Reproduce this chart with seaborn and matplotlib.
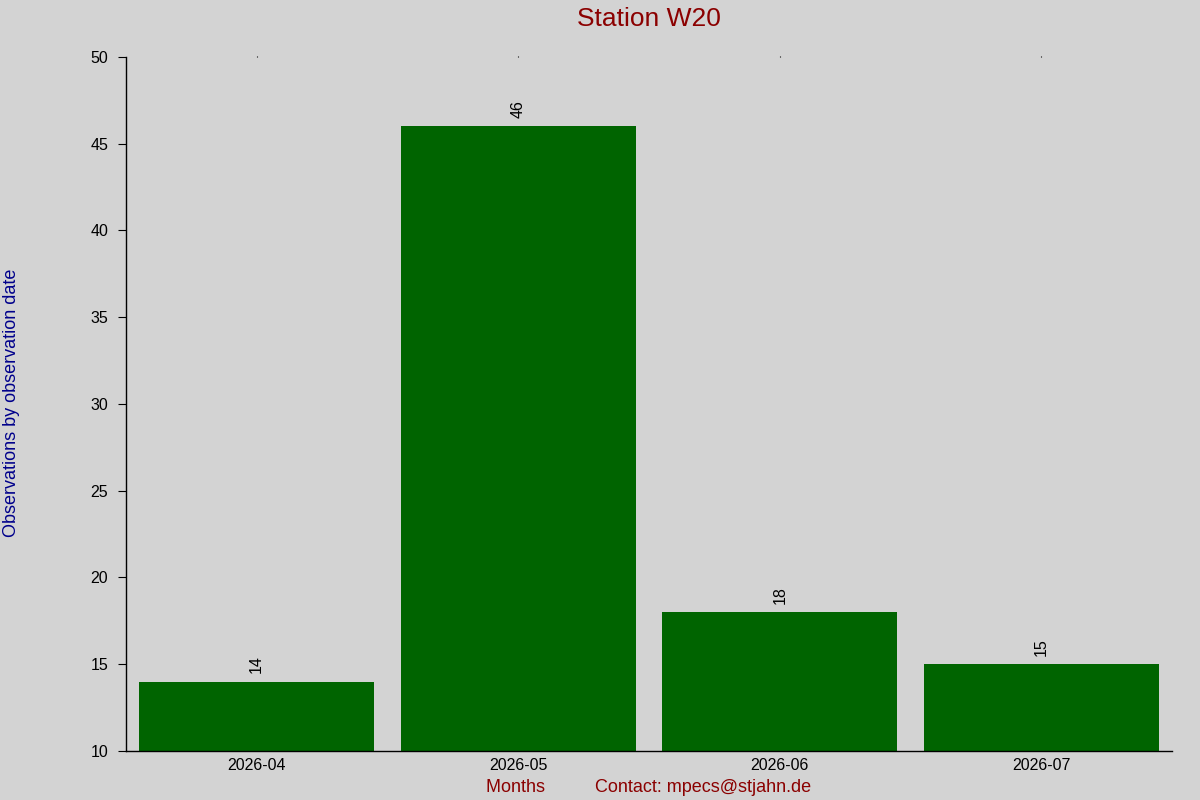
import matplotlib
matplotlib.use("Agg")
import matplotlib.pyplot as plt
import seaborn as sns
import pandas as pd

months = ["2026-04", "2026-05", "2026-06", "2026-07"]
counts = [14, 46, 18, 15]
title = "Station W20"
ylabel = "Observations by observation date"
xlabel = "Months          Contact: mpecs@stjahn.de"

sns.set_theme(style="white")
plt.rcParams["font.family"] = ["Liberation Sans", "DejaVu Sans"]

bg = "#d3d3d3"
fig = plt.figure(figsize=(12, 8), dpi=100, facecolor=bg)
ax = fig.add_axes([126 / 1200, 49 / 800, (1172 - 126) / 1200, (751 - 57) / 800])
ax.set_facecolor(bg)

df = pd.DataFrame({"month": months, "count": counts})
sns.barplot(data=df, x="month", y="count", color="#006400", saturation=1,
            width=0.9, ax=ax, errorbar=None, linewidth=0, edgecolor="#006400")

ax.set_xlim(-0.5, 3.5)
ax.set_ylim(10, 50)
ax.set_yticks([10, 15, 20, 25, 30, 35, 40, 45, 50])

for c in ax.containers:
    ax.bar_label(c, labels=[str(v) for v in counts], padding=6, rotation=90,
                 fontsize=11.5, color="black")

for s in ["top", "right"]:
    ax.spines[s].set_visible(False)
for s in ["left", "bottom"]:
    ax.spines[s].set_color("black")
    ax.spines[s].set_linewidth(1.0)

ax.tick_params(axis="y", which="major", direction="out", length=5.8, width=0.8,
               color="black", labelsize=11.5, labelcolor="black", pad=7, left=True)
ax.tick_params(axis="x", which="major", bottom=False, top=True, length=1, width=0.8,
               color="black", labelsize=11.5, labelcolor="black", pad=4,
               labelbottom=True, labeltop=False)

ax.set_title(title, color="#8b0000", fontsize=19, pad=22)
ax.set_xlabel(xlabel, color="#8b0000", fontsize=13, labelpad=4)
ax.set_ylabel("")
fig.text(12 / 1200, 1 - 403 / 800, ylabel, rotation=90, color="#00008b",
         fontsize=13, ha="center", va="center")

fig.savefig("out.png", dpi=100, facecolor=bg)
